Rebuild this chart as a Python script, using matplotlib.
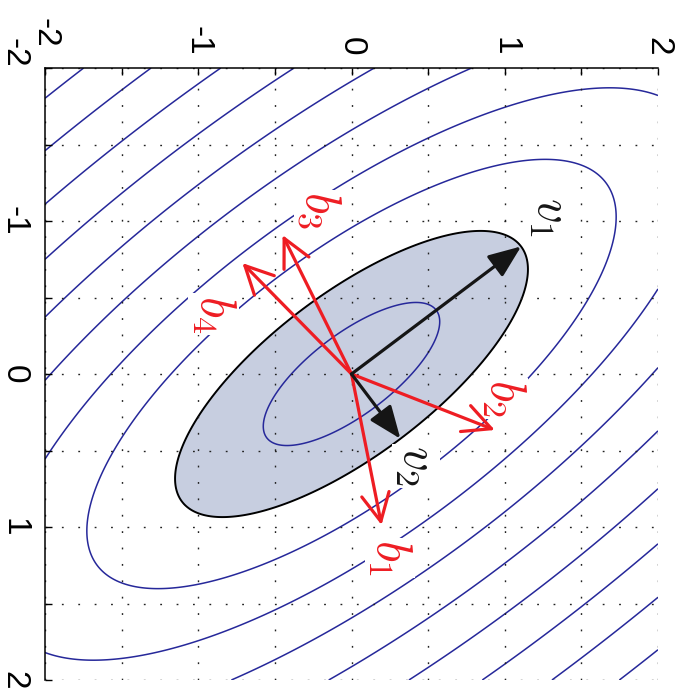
import numpy as np
import matplotlib
matplotlib.use("Agg")
import matplotlib.pyplot as plt
from matplotlib.transforms import ScaledTranslation

plt.rcParams['mathtext.fontset'] = 'cm'
plt.rcParams['axes.unicode_minus'] = False
plt.rcParams['font.family'] = ['Liberation Sans', 'DejaVu Sans']

# ---- data (display coordinates: horizontal h, vertical v; v grows downward) ----
b_vectors = {  # frame vectors b_i
    'b_1': (0.196, 0.987),
    'b_2': (0.935, 0.366),
    'b_3': (-0.450, -0.908),
    'b_4': (-0.712, -0.725),
}
v_vectors = {  # principal axes of the unit ellipse
    'v_1': (1.107, -0.834),
    'v_2': (0.319, 0.423),
}
b_label_pos = {'b_1': (0.25, 1.20), 'b_2': (0.99, 0.16), 'b_3': (-0.21, -1.07), 'b_4': (-0.90, -0.39)}
v_label_pos = {'v_1': (1.29, -1.03), 'v_2': (0.42, 0.60)}
contour_levels = [0.5, 1.5, 2.0, 2.5, 3.0, 3.5, 4.0, 4.5, 5.0, 5.5]
fill_level = 1.0
tick_values = [-2, -1.5, -1, -0.5, 0, 0.5, 1, 1.5, 2]
tick_labels = ['-2', '', '-1', '', '0', '', '1', '', '2']

# ---- figure ----
fig = plt.figure(figsize=(6.79, 6.96), dpi=100)
ax = fig.add_axes([45/679, 16/696, 613/679, 612/696])

h = np.linspace(-2, 2, 401)
v = np.linspace(-2, 2, 401)
H, V = np.meshgrid(h, v)
F2 = np.zeros_like(H)
for bh, bv in b_vectors.values():
    F2 += (bh*H + bv*V)**2
F = np.sqrt(F2)

ax.contourf(H, V, F, levels=[0, fill_level], colors=['#c7cee0'], zorder=1)
ax.contour(H, V, F, levels=[fill_level], colors='black', linewidths=1.4, zorder=2)
ax.contour(H, V, F, levels=contour_levels, colors='#26289a', linewidths=1.1, zorder=2)

red = '#ee1d23'
for name, (bh, bv) in b_vectors.items():
    ax.annotate('', xy=(bh, bv), xytext=(0, 0),
                arrowprops=dict(arrowstyle='->,head_length=1.0,head_width=0.5',
                                color=red, lw=2.3, shrinkA=0, shrinkB=0,
                                mutation_scale=20), zorder=5)
for name, (vh, vv) in v_vectors.items():
    ax.annotate('', xy=(vh, vv), xytext=(0, 0),
                arrowprops=dict(arrowstyle='-|>,head_length=1.0,head_width=0.4',
                                color='#151515', lw=2.3, shrinkA=0, shrinkB=0,
                                mutation_scale=20), zorder=6)

bbox = dict(facecolor='white', edgecolor='none', pad=1.0)
for name, (x, y) in b_label_pos.items():
    ax.text(x, y, '$' + name + '$', color=red, fontsize=35, rotation=-90,
            ha='center', va='center', bbox=bbox, zorder=3)
for name, (x, y) in v_label_pos.items():
    ax.text(x, y, '$' + name + '$', color='#151515', fontsize=35, rotation=-90,
            ha='center', va='center', bbox=bbox, zorder=3)

ax.set_xlim(-2, 2)
ax.set_ylim(2, -2)
ax.set_xticks(tick_values)
ax.set_xticklabels(tick_labels)
ax.set_yticks(tick_values)
ax.set_yticklabels(tick_labels)
ax.xaxis.tick_top()
ax.tick_params(axis='x', which='both', direction='in', length=5, width=1,
               top=True, bottom=False, labeltop=True, labelbottom=False,
               labelsize=24, pad=9, labelrotation=-90)
ax.tick_params(axis='y', which='both', direction='in', length=5, width=1,
               left=True, right=False, labelsize=24, pad=11, labelrotation=-90)
for lab in ax.get_yticklabels():
    lab.set_va('center')
for s in ['right', 'bottom']:
    ax.spines[s].set_visible(False)
for s in ['top', 'left']:
    ax.spines[s].set_linewidth(1.1)
    ax.spines[s].set_zorder(7)

ax.set_axisbelow(False)
ax.grid(True, color='#222222', linestyle=(0, (1.3, 10.5)), linewidth=1.0)

# corner labels shifted as in the reference
fig.canvas.draw()
xl = ax.get_xticklabels()[0]
xl.set_transform(xl.get_transform() + ScaledTranslation(0, 8/100, fig.dpi_scale_trans))
yl = ax.get_yticklabels()[0]
yl.set_transform(yl.get_transform() + ScaledTranslation(0, 15/100, fig.dpi_scale_trans))

fig.savefig('out.png', dpi=100)
